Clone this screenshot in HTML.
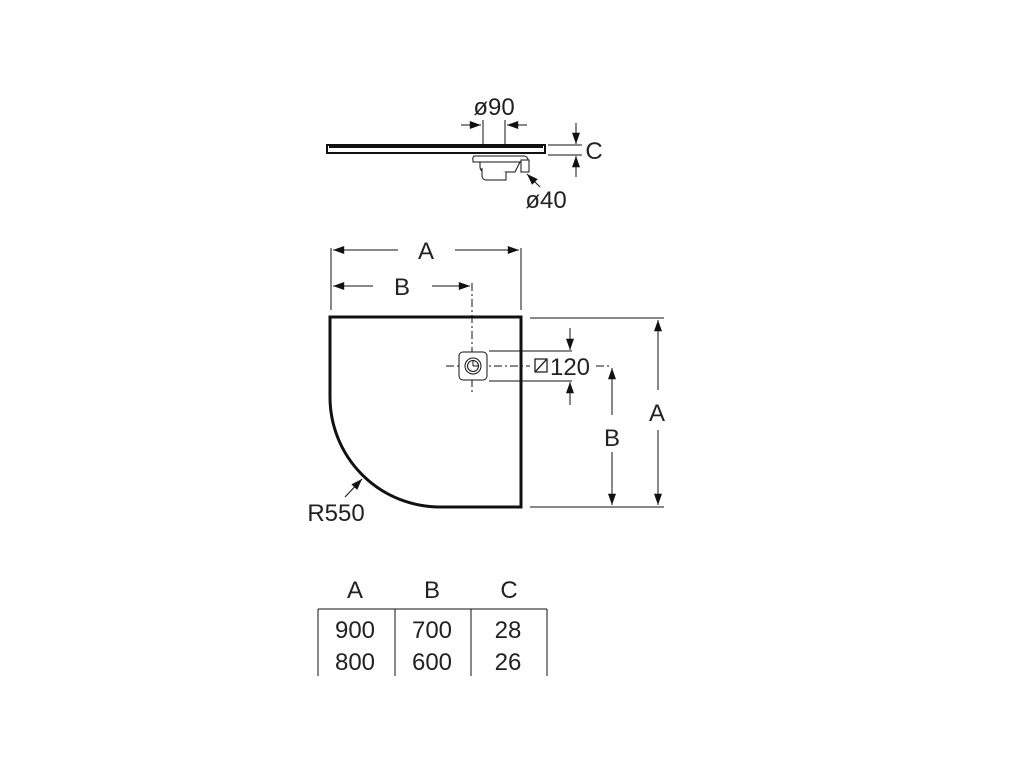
<!DOCTYPE html>
<html><head><style>
html,body{margin:0;padding:0;background:#fff;}
svg text{font-family:"Liberation Sans",sans-serif;fill:#222;}
</style></head><body>
<svg width="1024" height="768" viewBox="0 0 1024 768" xmlns="http://www.w3.org/2000/svg">
<defs>
<marker id="ar" viewBox="0 0 14 10" refX="14" refY="5" markerWidth="14" markerHeight="8" markerUnits="userSpaceOnUse" orient="auto"><path d="M0,0 L14,5 L0,10 z" fill="#111"/></marker>
</defs>
<g stroke="#111" fill="none" stroke-width="1">
<!-- side view -->
<rect x="327" y="145" width="218" height="8" fill="#fff" stroke-width="2"/>
<line x1="329" y1="147" x2="543" y2="147" stroke-width="2"/>
<line x1="483" y1="120" x2="483" y2="145"/>
<line x1="505" y1="120" x2="505" y2="145"/>
<line x1="461" y1="125" x2="481" y2="125" marker-end="url(#ar)"/>
<line x1="527" y1="125" x2="507" y2="125" marker-end="url(#ar)"/>
<path d="M474,156 h50 a4,4 0 0 1 4,4 v2 h-55 v-2 a4,4 0 0 1 1,-4z" fill="#fff"/>
<path d="M480,162 h40 l-5,10 h-30 a5,5 0 0 1 -5,-5z" fill="#fff"/>
<path d="M482,168 v8 a4,4 0 0 0 4,4 h20 v-8" fill="#fff"/>
<rect x="521" y="160" width="8" height="12" fill="#fff"/>
<line x1="540" y1="187" x2="527" y2="174" marker-end="url(#ar)"/>
<line x1="548" y1="145" x2="582" y2="145"/>
<line x1="548" y1="155" x2="582" y2="155"/>
<line x1="576" y1="123" x2="576" y2="144" marker-end="url(#ar)"/>
<line x1="576" y1="177" x2="576" y2="156" marker-end="url(#ar)"/>
<!-- plan -->
<path d="M330,317 H521 V507 H440 A110,110 0 0 1 330,397 Z" stroke-width="3"/>
<line x1="331" y1="248" x2="331" y2="310"/>
<line x1="521" y1="248" x2="521" y2="310"/>
<line x1="398" y1="250" x2="333" y2="250" marker-end="url(#ar)"/>
<line x1="455" y1="250" x2="519" y2="250" marker-end="url(#ar)"/>
<line x1="373" y1="286" x2="333" y2="286" marker-end="url(#ar)"/>
<line x1="432" y1="286" x2="470" y2="286" marker-end="url(#ar)"/>
<line x1="472" y1="283" x2="472" y2="392" stroke-dasharray="8,3,2,3"/>
<line x1="446" y1="366" x2="530" y2="366" stroke-dasharray="8,3,2,3"/>
<line x1="596" y1="366" x2="612" y2="366" stroke-dasharray="8,3,2,3"/>
<rect x="459" y="352" width="28" height="28" rx="4" fill="#fff"/>
<circle cx="473" cy="366" r="8"/>
<circle cx="473" cy="366" r="5.5"/>
<line x1="473" y1="360" x2="473" y2="366"/><line x1="473" y1="366" x2="478" y2="366"/>
<line x1="489" y1="351" x2="572" y2="351"/>
<line x1="489" y1="381" x2="572" y2="381"/>
<line x1="570" y1="328" x2="570" y2="350" marker-end="url(#ar)"/>
<line x1="570" y1="405" x2="570" y2="382" marker-end="url(#ar)"/>
<line x1="530" y1="318" x2="664" y2="318"/>
<line x1="530" y1="507" x2="664" y2="507"/>
<line x1="658" y1="390" x2="658" y2="320" marker-end="url(#ar)"/>
<line x1="658" y1="430" x2="658" y2="505" marker-end="url(#ar)"/>
<line x1="612" y1="415" x2="612" y2="368" marker-end="url(#ar)"/>
<line x1="612" y1="452" x2="612" y2="505" marker-end="url(#ar)"/>
<line x1="345" y1="497" x2="362" y2="479" marker-end="url(#ar)"/>
<!-- table -->
<line x1="318" y1="609" x2="547" y2="609"/>
<line x1="318" y1="609" x2="318" y2="676"/>
<line x1="395" y1="609" x2="395" y2="676"/>
<line x1="471" y1="609" x2="471" y2="676"/>
<line x1="547" y1="609" x2="547" y2="676"/>
</g>
<g font-size="24" text-anchor="middle">
<text x="494" y="115">ø90</text>
<text x="594" y="159">C</text>
<text x="546" y="208">ø40</text>
<text x="426" y="259">A</text>
<text x="402" y="295">B</text>
<text x="657" y="421">A</text>
<text x="612" y="446">B</text>
<text x="336" y="521">R550</text>
<text x="355" y="598">A</text><text x="432" y="598">B</text><text x="509" y="598">C</text>
<text x="355" y="638">900</text><text x="432" y="638">700</text><text x="508" y="638">28</text>
<text x="355" y="670">800</text><text x="432" y="670">600</text><text x="508" y="670">26</text>
<text x="570" y="375">120</text>
</g>
<rect x="535" y="359" width="12" height="13" fill="none" stroke="#222" stroke-width="1.3"/>
<line x1="535" y1="372" x2="547" y2="359" stroke="#222" stroke-width="1.3"/>
</svg>
</body></html>
